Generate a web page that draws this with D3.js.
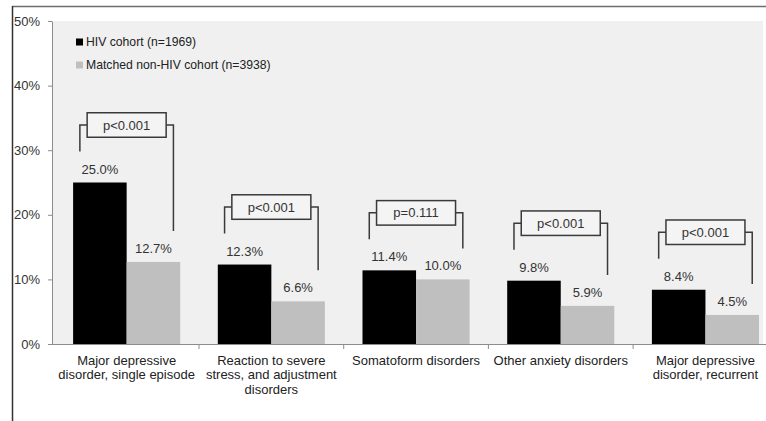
<!DOCTYPE html>
<html>
<head>
<meta charset="utf-8">
<script src="https://cdn.jsdelivr.net/npm/d3@7"></script>
<style>
  html, body { margin: 0; padding: 0; background: #ffffff; }
  svg { display: block; font-family: "Liberation Sans", Arial, sans-serif; }
</style>
</head>
<body>
<svg id="chart" width="766" height="421"></svg>
<script>
// Psychiatric diagnoses: HIV cohort vs matched non-HIV cohort (percent)
const categories = [
  "Major depressive disorder, single episode",
  "Reaction to severe stress, and adjustment disorders",
  "Somatoform disorders",
  "Other anxiety disorders",
  "Major depressive disorder, recurrent"
];
const categoryLines = [
  ["Major depressive", "disorder, single episode"],
  ["Reaction to severe", "stress, and adjustment", "disorders"],
  ["Somatoform disorders"],
  ["Other anxiety disorders"],
  ["Major depressive", "disorder, recurrent"]
];
const hivValues = [25.0, 12.3, 11.4, 9.8, 8.4];
const nonHivValues = [12.7, 6.6, 10.0, 5.9, 4.5];
const pValues = ["p<0.001", "p<0.001", "p=0.111", "p<0.001", "p<0.001"];
const seriesNames = ["HIV cohort (n=1969)", "Matched non-HIV cohort (n=3938)"];
const seriesColors = ["#000000", "#bfbfbf"];
const yTicks = [0, 10, 20, 30, 40, 50];

const svg = d3.select("#chart");
const W = 766, H = 421;

// outer frame (top and left edges)
svg.append("line").attr("x1", 12).attr("x2", W).attr("y1", 6.5).attr("y2", 6.5)
  .attr("stroke", "#6e6e6e").attr("stroke-width", 1.6);
svg.append("line").attr("x1", 12.5).attr("x2", 12.5).attr("y1", 6).attr("y2", H)
  .attr("stroke", "#333").attr("stroke-width", 1.5);

const plot = { left: 52, top: 21, bottom: 344, right: W, bgRight: 763 };

// plot area background
svg.append("rect").attr("x", plot.left).attr("y", plot.top)
  .attr("width", plot.bgRight - plot.left).attr("height", plot.bottom - plot.top)
  .attr("fill", "#f0f0f0");

const y = d3.scaleLinear().domain([0, 50]).range([plot.bottom, plot.top]);
const bandStart = 54.3, bandStep = 144.7;
const x = d3.scaleBand().domain(categories)
  .range([bandStart, bandStart + bandStep * categories.length]).padding(0);
const x1 = d3.scaleBand().domain([0, 1])
  .range([18.8, x.bandwidth() - 18.8]).padding(0);

// y axis
const yAxis = d3.axisLeft(y).tickValues(yTicks).tickFormat(d => d + "%")
  .tickSize(4).tickSizeOuter(0).tickPadding(8);
const gy = svg.append("g").attr("transform", `translate(${plot.left},0)`).call(yAxis);
gy.select(".domain").attr("stroke", "#8c8c8c");
gy.selectAll(".tick line").attr("stroke", "#8c8c8c");
gy.selectAll(".tick text").attr("font-size", 13).attr("fill", "#333")
  .attr("font-family", "Liberation Sans, Arial, sans-serif");

// x axis with ticks at category boundaries
const xAxisG = svg.append("g");
xAxisG.append("line").attr("x1", plot.left).attr("x2", plot.right)
  .attr("y1", plot.bottom + 0.5).attr("y2", plot.bottom + 0.5).attr("stroke", "#8c8c8c");
xAxisG.selectAll("line.bnd").data(categories.slice(1)).join("line").attr("class", "bnd")
  .attr("x1", d => x(d)).attr("x2", d => x(d))
  .attr("y1", plot.bottom).attr("y2", plot.bottom + 5).attr("stroke", "#8c8c8c");

// category labels
const catG = svg.append("g");
categories.forEach((c, i) => {
  const t = catG.append("text").attr("x", x(c) + x.bandwidth() / 2).attr("y", 364.5)
    .attr("text-anchor", "middle").attr("font-size", 13).attr("fill", "#222");
  categoryLines[i].forEach((ln, j) => {
    t.append("tspan").attr("x", x(c) + x.bandwidth() / 2).attr("dy", j === 0 ? 0 : 14.6).text(ln);
  });
});

// bars and value labels
const rows = categories.map((c, i) => ({ c, vals: [hivValues[i], nonHivValues[i]], p: pValues[i] }));
const groups = svg.append("g").selectAll("g").data(rows).join("g")
  .attr("transform", d => `translate(${x(d.c)},0)`);

groups.selectAll("rect").data(d => d.vals.map((v, k) => ({ v, k }))).join("rect")
  .attr("x", d => x1(d.k)).attr("width", x1.bandwidth())
  .attr("y", d => y(d.v)).attr("height", d => y(0) - y(d.v))
  .attr("fill", d => seriesColors[d.k]);

groups.selectAll("text.val").data(d => d.vals.map((v, k) => ({ v, k }))).join("text")
  .attr("class", "val")
  .attr("x", d => x1(d.k) + x1.bandwidth() / 2).attr("y", d => y(d.v) - 9)
  .attr("text-anchor", "middle").attr("font-size", 13).attr("fill", "#333")
  .text(d => d.v.toFixed(1) + "%");

// significance brackets
groups.each(function(d) {
  const g = d3.select(this);
  const lx = x1(0) + x1.bandwidth() / 2 - 20;
  const rx = x1(1) + x1.bandwidth() / 2 + 20;
  const midY = y(Math.max(...d.vals)) - 57.5;
  const bw = 79, bh = 24.5;
  const cx = (lx + rx) / 2;
  const stroke = "#3a3a3a";
  g.append("path")
    .attr("d", `M${lx},${y(d.vals[0]) - 31}V${midY}H${cx - bw / 2}`)
    .attr("fill", "none").attr("stroke", stroke).attr("stroke-width", 1.5);
  g.append("path")
    .attr("d", `M${cx + bw / 2},${midY}H${rx}V${y(d.vals[1]) - 31}`)
    .attr("fill", "none").attr("stroke", stroke).attr("stroke-width", 1.5);
  g.append("rect").attr("x", cx - bw / 2).attr("y", midY - bh / 2)
    .attr("width", bw).attr("height", bh)
    .attr("fill", "#f4f4f4").attr("stroke", stroke).attr("stroke-width", 1.5);
  g.append("text").attr("x", cx).attr("y", midY + 4.5)
    .attr("text-anchor", "middle").attr("font-size", 13).attr("fill", "#333")
    .text(d.p);
});

// legend
const legend = svg.append("g");
seriesNames.forEach((name, i) => {
  const ly = 42 + i * 23;
  legend.append("rect").attr("x", 76).attr("y", ly - 3.5).attr("width", 7).attr("height", 7)
    .attr("fill", seriesColors[i]);
  legend.append("text").attr("x", 86).attr("y", ly + 4.3).attr("font-size", 12.2)
    .attr("fill", "#222").text(name);
});
</script>
</body>
</html>
